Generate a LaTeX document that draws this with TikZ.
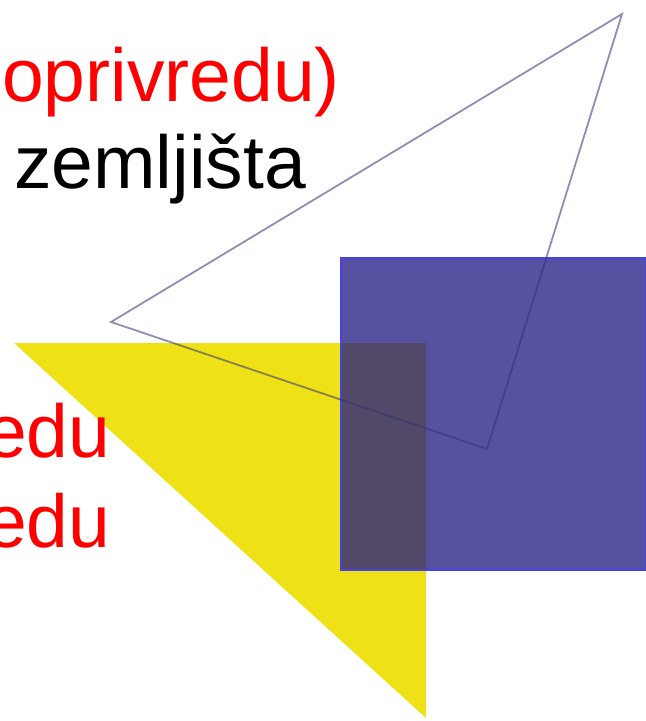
\documentclass[tikz,border=0pt]{standalone}
\usepackage{fontspec}
\setmainfont{Liberation Sans}
\definecolor{yellowfill}{RGB}{238,226,22}
\definecolor{squarefill}{RGB}{33,26,131}
\definecolor{squareline}{RGB}{70,66,230}
\definecolor{wedgeline}{RGB}{50,50,120}
\begin{document}
\begin{tikzpicture}[x=1bp,y=-1bp]
\tikzstyle{every node}+=[inner sep=0pt]
\tikzstyle{bigtext}=[font=\fontsize{75bp}{90bp}\selectfont, anchor=base west]
\useasboundingbox (0,0) rectangle (646,721);
\clip (0,0) rectangle (646,721);
% shapes
\fill [yellowfill] (14,343) -- (426,343) -- (426,718) -- cycle;
\fill [squarefill, fill opacity=0.76] (341,258) rectangle (646,570);
\draw [squareline, line width=1.5bp] (341,258) rectangle (646,570);
\draw [wedgeline, draw opacity=0.55, line width=1.8bp, line join=miter] (111,322) -- (622,14) -- (487,449) -- cycle;
% text
\node [bigtext, text=red] (farm) at (2,102) {oprivredu)};
\node [bigtext, text=black] (land) at (14,188) {zemljišta};
\node [bigtext, text=red] (eduone) at (-15,457) {edu};
\node [bigtext, text=red] (edutwo) at (-15,547) {edu};
\end{tikzpicture}
\end{document}
